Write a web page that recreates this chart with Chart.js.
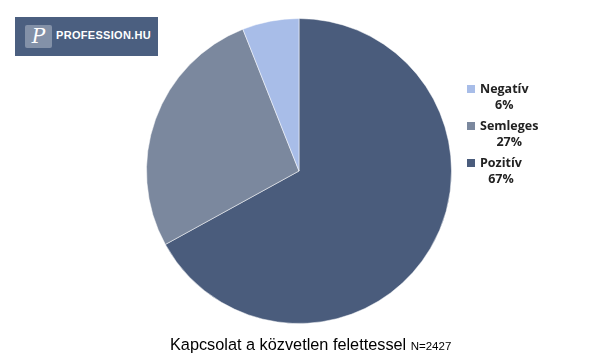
<!DOCTYPE html>
<html lang="hu">
<head>
<meta charset="UTF-8">
<title>Kapcsolat a közvetlen felettessel</title>
<script src="https://cdn.jsdelivr.net/npm/chart.js"></script>
<style>
    body { margin: 0; background: #fff; }
    #wrap { position: relative; width: 600px; height: 360px; overflow: hidden; }
    #logo { position: absolute; left: 15px; top: 17px; width: 143px; height: 39px; background: #4b5f80; }
    #logo .mark { position: absolute; left: 10px; top: 8px; width: 27px; height: 23px; background: #8391a8; border-radius: 2px;
        color: #fff; font: italic 20px "DejaVu Serif", serif; line-height: 23px; text-align: center; }
    #logo .name { position: absolute; left: 41px; top: 12px; color: #fff; font: bold 11px "Liberation Sans", Arial, sans-serif; letter-spacing: 0.3px; }
    #title { position: absolute; left: 170px; top: 335px; font-family: "Liberation Sans", Arial, sans-serif; color: #000; white-space: nowrap; }
    #title .main { font-size: 16.3px; }
    #title .n { font-size: 11.5px; }
</style>
</head>
<body>
<div id="wrap">
    <canvas id="pie" width="600" height="360"></canvas>
    <div id="logo"><div class="mark">P</div><div class="name">PROFESSION.HU</div></div>
    <div id="title"><span class="main">Kapcsolat a közvetlen felettessel</span> <span class="n">N=2427</span></div>
</div>
<script>
// data (drawn clockwise from 12 o'clock)
const labels = ['Pozitív', 'Semleges', 'Negatív'];
const shares = [67, 27, 6];
const colors = ['#4a5c7c', '#7b889e', '#a8bde8'];

// legend on the right, listed bottom slice first, percentage under the name
const sideLegend = {
    id: 'sideLegend',
    afterDraw(chart) {
        const ctx = chart.ctx;
        const ds = chart.data.datasets[0];
        const order = chart.data.labels.map((l, i) => i).reverse();
        ctx.save();
        ctx.font = 'bold 12.5px "Open Sans", sans-serif';
        ctx.textBaseline = 'alphabetic';
        order.forEach((idx, k) => {
            const y = 93 + k * 37;
            ctx.fillStyle = ds.backgroundColor[idx];
            ctx.fillRect(467, y - 8, 8, 8);
            const name = chart.data.labels[idx];
            const pct = ds.data[idx] + '%';
            const w = ctx.measureText(name).width;
            const cx = 480 + w / 2;
            ctx.fillStyle = '#222';
            ctx.textAlign = 'center';
            ctx.fillText(name, cx, y);
            ctx.fillText(pct, cx, y + 16);
        });
        ctx.restore();
    }
};

new Chart(document.getElementById('pie'), {
    type: 'pie',
    data: {
        labels: labels,
        datasets: [{
            data: shares,
            backgroundColor: colors,
            borderColor: 'rgba(255,255,255,0.5)',
            borderWidth: 1
        }]
    },
    options: {
        responsive: false,
        animation: false,
        layout: { padding: { left: 146, right: 148, top: 18, bottom: 36 } },
        plugins: {
            legend: { display: false },
            tooltip: { enabled: false }
        }
    },
    plugins: [sideLegend]
});
</script>
</body>
</html>
